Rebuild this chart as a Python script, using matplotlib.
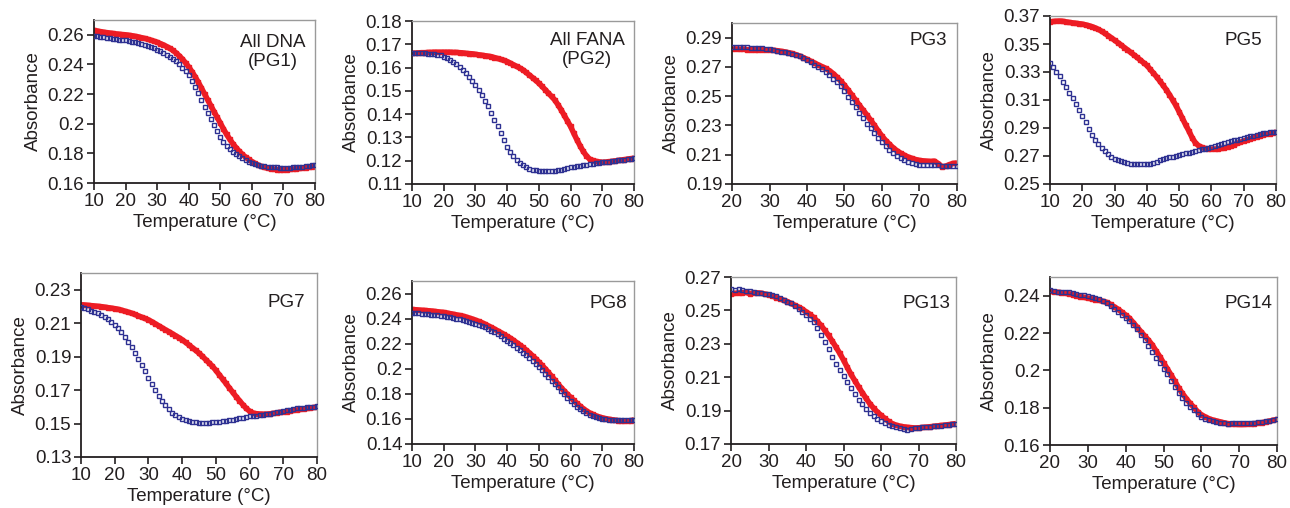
import matplotlib
matplotlib.use('Agg')
import matplotlib.pyplot as plt

plt.rcParams['font.family'] = ['Liberation Sans', 'DejaVu Sans']

# ---------------- data ----------------
temps_10 = list(range(10, 81))
temps_20 = list(range(20, 81))

pg1_red = [.2630,.2626,.2622,.2618,.2615,.2612,.2609,.2606,.2604,.2602,
           .2600,.2597,.2594,.2590,.2586,.2581,.2576,.2570,.2564,.2557,
           .2550,.2541,.2532,.2521,.2509,.2495,.2478,.2458,.2436,.2411,
           .2383,.2352,.2318,.2281,.2242,.2201,.2162,.2122,.2082,.2043,
           .2005,.1965,.1928,.1895,.1865,.1838,.1814,.1793,.1775,.1759,
           .1745,.1732,.1721,.1712,.1705,.1700,.1696,.1693,.1691,.1690,
           .1690,.1691,.1692,.1694,.1696,.1698,.1700,.1703,.1706,.1709,
           .1712]
pg1_blue = [.2591,.2589,.2586,.2583,.2580,.2577,.2574,.2571,.2568,.2565,
            .2562,.2558,.2554,.2549,.2544,.2538,.2532,.2525,.2517,.2508,
            .2499,.2489,.2478,.2466,.2453,.2439,.2421,.2400,.2377,.2353,
            .2327,.2287,.2246,.2204,.2160,.2115,.2072,.2030,.1989,.1950,
            .1913,.1880,.1852,.1828,.1810,.1795,.1781,.1768,.1756,.1745,
            .1734,.1727,.1721,.1716,.1713,.1711,.1709,.1707,.1705,.1703,
            .1702,.1702,.1703,.1705,.1707,.1709,.1711,.1714,.1717,.1720,
            .1723]

pg2_red = [.1661,.1662,.1663,.1664,.1664,.1665,.1665,.1666,.1666,.1666,
           .1666,.1666,.1666,.1665,.1665,.1664,.1663,.1661,.1660,.1659,
           .1657,.1655,.1653,.1651,.1649,.1647,.1643,.1639,.1635,.1631,
           .1626,.1619,.1612,.1605,.1598,.1590,.1579,.1568,.1557,.1545,
           .1533,.1519,.1505,.1490,.1476,.1461,.1441,.1419,.1395,.1371,
           .1347,.1318,.1290,.1264,.1240,.1221,.1207,.1201,.1197,.1195,
           .1193,.1194,.1196,.1197,.1199,.1201,.1203,.1205,.1207,.1209,
           .1211]
pg2_blue = [.1661,.1661,.1661,.1661,.1661,.1660,.1659,.1658,.1656,.1652,
            .1647,.1641,.1633,.1625,.1616,.1604,.1590,.1576,.1561,.1544,
            .1526,.1505,.1483,.1458,.1433,.1405,.1376,.1347,.1319,.1290,
            .1261,.1238,.1219,.1203,.1190,.1180,.1171,.1165,.1161,.1159,
            .1157,.1155,.1154,.1154,.1154,.1156,.1159,.1161,.1164,.1168,
            .1173,.1175,.1177,.1179,.1181,.1183,.1185,.1187,.1189,.1191,
            .1193,.1195,.1196,.1198,.1199,.1201,.1203,.1205,.1207,.1209,
            .1211]

pg3_red = [.2821,.2823,.2820,.2822,.2818,.2817,.2818,.2817,.2817,.2816,
           .2816,.2814,.2811,.2807,.2803,.2798,.2792,.2784,.2775,.2764,
           .2752,.2739,.2727,.2714,.2702,.2690,.2674,.2654,.2630,.2604,
           .2574,.2541,.2507,.2472,.2437,.2404,.2370,.2335,.2300,.2262,
           .2227,.2197,.2171,.2147,.2127,.2110,.2096,.2084,.2075,.2067,
           .2061,.2058,.2056,.2054,.2056,.2040,.2018,.2022,.2033,.2041,
           .2043]
pg3_blue = [.2837,.2838,.2836,.2835,.2834,.2832,.2830,.2829,.2827,.2823,
            .2819,.2815,.2810,.2805,.2799,.2793,.2788,.2782,.2776,.2762,
            .2746,.2731,.2715,.2699,.2683,.2667,.2644,.2620,.2596,.2570,
            .2532,.2497,.2462,.2425,.2388,.2350,.2313,.2280,.2248,.2215,
            .2186,.2160,.2135,.2112,.2094,.2077,.2062,.2051,.2043,.2037,
            .2032,.2031,.2031,.2031,.2030,.2028,.2026,.2024,.2023,.2021,
            .2020]

pg5_red = [.3657,.3661,.3663,.3664,.3662,.3658,.3654,.3651,.3648,.3645,
           .3642,.3637,.3631,.3624,.3615,.3604,.3591,.3576,.3560,.3544,
           .3527,.3510,.3493,.3475,.3458,.3440,.3422,.3404,.3385,.3366,
           .3347,.3320,.3293,.3266,.3236,.3205,.3174,.3138,.3100,.3061,
           .3016,.2970,.2923,.2880,.2832,.2795,.2774,.2762,.2754,.2750,
           .2749,.2749,.2751,.2754,.2757,.2765,.2773,.2781,.2790,.2798,
           .2807,.2815,.2822,.2829,.2837,.2844,.2851,.2855,.2860,.2865,
           .2870]
pg5_blue = [.3361,.3333,.3303,.3268,.3230,.3192,.3152,.3112,.3070,.3027,
            .2983,.2940,.2893,.2850,.2815,.2785,.2757,.2733,.2712,.2695,
            .2682,.2671,.2662,.2655,.2649,.2645,.2642,.2640,.2640,.2641,
            .2643,.2646,.2650,.2656,.2668,.2681,.2686,.2691,.2696,.2701,
            .2707,.2713,.2719,.2725,.2730,.2736,.2741,.2747,.2752,.2758,
            .2764,.2771,.2778,.2785,.2792,.2798,.2805,.2811,.2817,.2822,
            .2828,.2834,.2840,.2846,.2852,.2858,.2863,.2866,.2869,.2872,
            .2875]

pg7_red = [.2210,.2209,.2207,.2205,.2203,.2201,.2199,.2196,.2193,.2190,
           .2187,.2183,.2178,.2172,.2166,.2160,.2152,.2144,.2136,.2128,
           .2120,.2109,.2097,.2085,.2073,.2061,.2050,.2038,.2026,.2014,
           .2001,.1986,.1970,.1954,.1938,.1921,.1902,.1882,.1862,.1842,
           .1818,.1792,.1766,.1740,.1713,.1687,.1661,.1637,.1613,.1591,
           .1574,.1563,.1559,.1557,.1556,.1556,.1558,.1561,.1564,.1567,
           .1569,.1572,.1575,.1578,.1581,.1584,.1587,.1590,.1593,.1596,
           .1599]
pg7_blue = [.2196,.2190,.2183,.2175,.2167,.2160,.2150,.2138,.2124,.2108,
            .2089,.2069,.2045,.2017,.1987,.1955,.1922,.1888,.1851,.1813,
            .1775,.1737,.1700,.1666,.1636,.1608,.1585,.1565,.1549,.1537,
            .1527,.1520,.1514,.1510,.1507,.1505,.1505,.1505,.1506,.1507,
            .1509,.1511,.1514,.1517,.1520,.1523,.1527,.1531,.1535,.1539,
            .1543,.1545,.1548,.1550,.1553,.1555,.1559,.1563,.1567,.1571,
            .1575,.1579,.1582,.1586,.1590,.1593,.1595,.1597,.1599,.1601,
            .1603]

pg8_red = [.2473,.2471,.2469,.2467,.2465,.2463,.2461,.2458,.2455,.2452,
           .2449,.2445,.2440,.2435,.2430,.2425,.2420,.2413,.2405,.2397,
           .2388,.2378,.2368,.2356,.2343,.2330,.2317,.2303,.2289,.2274,
           .2259,.2244,.2227,.2209,.2190,.2170,.2149,.2127,.2104,.2080,
           .2054,.2027,.2000,.1971,.1941,.1911,.1880,.1850,.1823,.1797,
           .1772,.1747,.1724,.1702,.1682,.1664,.1648,.1636,.1625,.1616,
           .1609,.1603,.1598,.1594,.1590,.1587,.1584,.1581,.1582,.1587,
           .1593]
pg8_blue = [.2446,.2444,.2441,.2439,.2437,.2435,.2432,.2429,.2425,.2421,
            .2417,.2414,.2409,.2404,.2399,.2394,.2389,.2382,.2374,.2366,
            .2358,.2350,.2341,.2330,.2318,.2304,.2290,.2275,.2258,.2241,
            .2223,.2205,.2187,.2167,.2147,.2127,.2106,.2087,.2064,.2040,
            .2014,.1988,.1961,.1934,.1906,.1878,.1851,.1824,.1797,.1770,
            .1745,.1720,.1697,.1677,.1660,.1645,.1634,.1624,.1615,.1607,
            .1601,.1597,.1594,.1591,.1589,.1588,.1588,.1588,.1588,.1588,
            .1588]

pg13_red = [.2598,.2602,.2604,.2606,.2608,.2600,.2606,.2605,.2603,.2598,
            .2594,.2587,.2577,.2570,.2561,.2553,.2542,.2531,.2520,.2508,
            .2492,.2477,.2458,.2435,.2410,.2381,.2350,.2316,.2280,.2243,
            .2203,.2159,.2117,.2080,.2043,.2008,.1974,.1942,.1915,.1892,
            .1872,.1853,.1835,.1822,.1813,.1807,.1803,.1800,.1798,.1796,
            .1797,.1799,.1801,.1803,.1806,.1808,.1811,.1813,.1816,.1819,
            .1822]
pg13_blue = [.2626,.2624,.2628,.2622,.2619,.2614,.2612,.2606,.2603,.2599,
             .2597,.2591,.2584,.2576,.2565,.2553,.2543,.2529,.2510,.2492,
             .2472,.2450,.2428,.2395,.2355,.2312,.2268,.2223,.2182,.2145,
             .2108,.2070,.2034,.1998,.1966,.1937,.1911,.1888,.1868,.1851,
             .1836,.1824,.1815,.1808,.1803,.1798,.1790,.1782,.1788,.1795,
             .1797,.1799,.1801,.1803,.1805,.1807,.1810,.1813,.1816,.1818,
             .1820]

pg14_red = [.2423,.2421,.2418,.2416,.2413,.2410,.2405,.2399,.2394,.2391,
            .2387,.2383,.2379,.2375,.2370,.2364,.2353,.2340,.2327,.2312,
            .2296,.2279,.2256,.2232,.2208,.2185,.2162,.2137,.2105,.2074,
            .2040,.2008,.1975,.1941,.1906,.1876,.1849,.1824,.1802,.1779,
            .1762,.1751,.1741,.1734,.1729,.1724,.1719,.1715,.1713,.1711,
            .1710,.1710,.1711,.1713,.1715,.1717,.1720,.1724,.1728,.1733,
            .1737]
pg14_blue = [.2428,.2424,.2421,.2419,.2417,.2418,.2412,.2409,.2405,.2401,
             .2397,.2392,.2387,.2381,.2374,.2360,.2345,.2330,.2313,.2297,
             .2281,.2262,.2241,.2219,.2190,.2161,.2130,.2099,.2068,.2038,
             .2009,.1978,.1944,.1910,.1879,.1852,.1827,.1805,.1785,.1766,
             .1752,.1741,.1733,.1727,.1722,.1718,.1716,.1714,.1716,.1718,
             .1716,.1719,.1717,.1719,.1720,.1722,.1724,.1726,.1729,.1734,
             .1737]

labels = ["All DNA\n(PG1)", "All FANA\n(PG2)", "PG3", "PG5",
          "PG7", "PG8", "PG13", "PG14"]
xticks_10 = [10, 20, 30, 40, 50, 60, 70, 80]
xticks_20 = [20, 30, 40, 50, 60, 70, 80]
yticks_list = [
    [0.16, 0.18, 0.2, 0.22, 0.24, 0.26],
    [0.11, 0.12, 0.13, 0.14, 0.15, 0.16, 0.17, 0.18],
    [0.19, 0.21, 0.23, 0.25, 0.27, 0.29],
    [0.25, 0.27, 0.29, 0.31, 0.33, 0.35, 0.37],
    [0.13, 0.15, 0.17, 0.19, 0.21, 0.23],
    [0.14, 0.16, 0.18, 0.2, 0.22, 0.24, 0.26],
    [0.17, 0.19, 0.21, 0.23, 0.25, 0.27],
    [0.16, 0.18, 0.2, 0.22, 0.24],
]
ylims = [(0.16, 0.27), (0.11, 0.18), (0.19, 0.30), (0.25, 0.37),
         (0.13, 0.24), (0.14, 0.27), (0.17, 0.27), (0.16, 0.25)]

series = [
    (temps_10, pg1_red, pg1_blue, xticks_10),
    (temps_10, pg2_red, pg2_blue, xticks_10),
    (temps_20, pg3_red, pg3_blue, xticks_20),
    (temps_10, pg5_red, pg5_blue, xticks_10),
    (temps_10, pg7_red, pg7_blue, xticks_10),
    (temps_10, pg8_red, pg8_blue, xticks_10),
    (temps_20, pg13_red, pg13_blue, xticks_20),
    (temps_20, pg14_red, pg14_blue, xticks_20),
]

# ---------------- layout (pixels: left, right, top, bottom) ----------------
W, H = 1290, 508
boxes = [(94, 315, 20, 183), (412, 634, 21, 184), (732, 957, 23, 184), (1050, 1276, 16, 184),
         (81, 317, 273, 457), (412, 634, 281, 444), (731, 956, 277, 444), (1050, 1277, 277, 445)]
label_pos = [(0.81, 0.804, 'center'), (0.79, 0.82, 'center'), (0.956, 0.894, 'right'),
             (0.938, 0.857, 'right'), (0.949, 0.837, 'right'), (0.968, 0.865, 'right'),
             (0.973, 0.844, 'right'), (0.978, 0.845, 'right')]

RED = '#ed1c24'
BLUE = '#2e3192'
INK = '#231f20'
FS = 13.5

fig = plt.figure(figsize=(W / 100, H / 100), dpi=100)
fig.patch.set_facecolor('white')

for i, (t, red, blue, xt) in enumerate(series):
    l, r, tp, b = boxes[i]
    ax = fig.add_axes([l / W, 1 - b / H, (r - l) / W, (b - tp) / H])
    ax.plot(t, red, color=RED, lw=4.0, solid_capstyle='butt', marker='s', ms=3.2,
            mec=RED, mfc=RED, zorder=2)
    ax.plot(t, blue, ls='none', marker='s', ms=3.0, mec=BLUE, mfc='none', mew=1.0, zorder=3)
    ax.set_xlim(xt[0], 80)
    ax.set_ylim(*ylims[i])
    ax.set_xticks(xt)
    ax.set_xticklabels([str(v) for v in xt])
    yt = yticks_list[i]
    ax.set_yticks(yt)
    ax.set_yticklabels([f'{v:g}' for v in yt])
    for s in ['left', 'bottom']:
        ax.spines[s].set_color(INK)
        ax.spines[s].set_linewidth(1.3)
    for s in ['top', 'right']:
        ax.spines[s].set_color('#9a9a9a')
        ax.spines[s].set_linewidth(1.0)
    ax.tick_params(direction='out', length=5, width=1.2, color=INK,
                   labelsize=FS, labelcolor=INK, pad=2, top=False, right=False)
    ax.set_xlabel('Temperature (°C)', fontsize=FS, color=INK, labelpad=3)
    ax.set_ylabel('Absorbance', fontsize=FS, color=INK, labelpad=4)
    lx, ly, ha = label_pos[i]
    ax.text(lx, ly, labels[i], transform=ax.transAxes, ha=ha, va='center',
            fontsize=FS, color=INK, linespacing=1.15, multialignment='center')

fig.savefig('out.png', dpi=100, facecolor='white')
